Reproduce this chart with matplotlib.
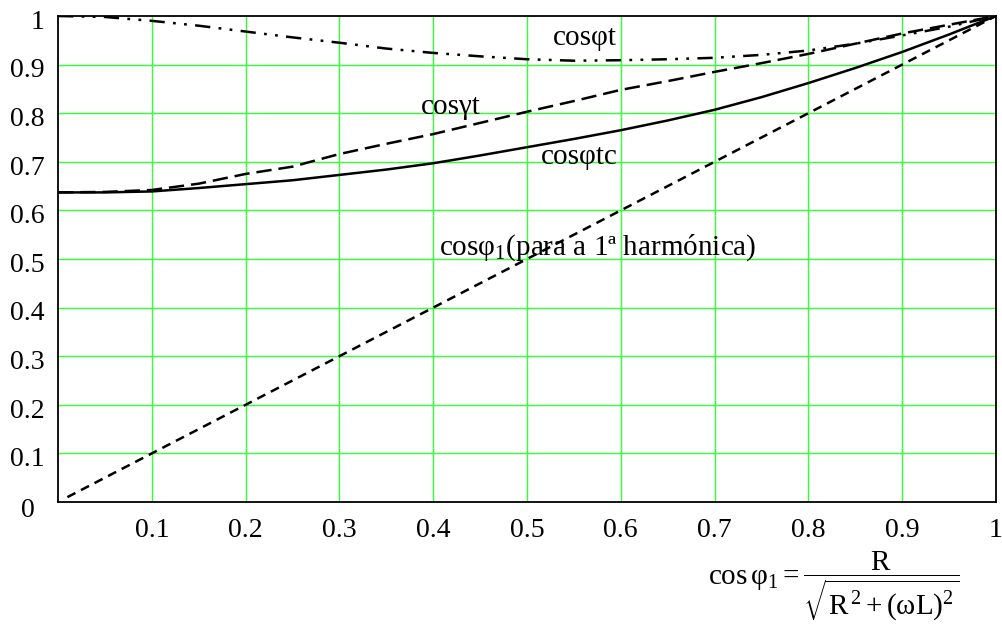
import matplotlib
matplotlib.use("Agg")
import matplotlib.pyplot as plt

plt.rcParams['font.family'] = ['Liberation Serif', 'DejaVu Serif']
plt.rcParams['mathtext.fontset'] = 'custom'
plt.rcParams['mathtext.rm'] = 'Liberation Serif'
plt.rcParams['mathtext.it'] = 'Liberation Serif:italic'
plt.rcParams['lines.scale_dashes'] = False

# cos(phi1) axis values
x = [0.0, 0.05, 0.1, 0.15, 0.2, 0.25, 0.3, 0.35, 0.4, 0.45, 0.5,
     0.55, 0.6, 0.65, 0.7, 0.75, 0.8, 0.85, 0.9, 0.95, 1.0]

cos_phi_t = [1.0, 0.998, 0.99, 0.98, 0.968, 0.956, 0.945, 0.933, 0.924, 0.917, 0.911,
             0.908, 0.909, 0.911, 0.914, 0.92, 0.929, 0.943, 0.96, 0.978, 1.0]
cos_gamma_t = [0.637, 0.638, 0.642, 0.655, 0.675, 0.69, 0.716, 0.737, 0.757, 0.78, 0.803,
               0.825, 0.848, 0.866, 0.885, 0.903, 0.922, 0.943, 0.964, 0.982, 1.0]
cos_phi_tc = [0.637, 0.637, 0.639, 0.646, 0.654, 0.662, 0.673, 0.684, 0.697, 0.713, 0.73,
              0.747, 0.765, 0.785, 0.807, 0.833, 0.862, 0.893, 0.926, 0.962, 1.0]
x1 = [0.01, 0.1, 0.2, 0.3, 0.4, 0.5, 0.6, 0.7, 0.8, 0.9, 1.0]
cos_phi1 = [0.01, 0.1, 0.2, 0.3, 0.4, 0.5, 0.6, 0.7, 0.8, 0.9, 1.0]

ticks = [0.1, 0.2, 0.3, 0.4, 0.5, 0.6, 0.7, 0.8, 0.9, 1.0]
tick_labels = ['0.1', '0.2', '0.3', '0.4', '0.5', '0.6', '0.7', '0.8', '0.9', '1']

fig = plt.figure(figsize=(10.02, 6.32), dpi=100)
ax = fig.add_axes([0.0579, 0.2057, 0.9361, 0.769])

ax.plot(x, cos_phi_t, color='black', lw=1.8, dashes=[11, 6, 2, 6, 2, 6])
ax.plot(x, cos_gamma_t, color='black', lw=1.8, dashes=[11, 5])
ax.plot(x, cos_phi_tc, color='black', lw=1.8)
ax.plot(x1, cos_phi1, color='black', lw=1.8, dashes=[6.5, 4.5])

ax.set_xlim(0, 1)
ax.set_ylim(0, 1)
ax.set_xticks(ticks[:-1])
ax.set_yticks(ticks[:-1])
ax.grid(True, color='#33ff33', lw=1.0)
ax.tick_params(length=0, labelbottom=False, labelleft=False)
for s in ax.spines.values():
    s.set_linewidth(1.3)
    s.set_color('black')

# tick labels
for t, lab in zip(ticks, tick_labels):
    ax.text(t, -0.058, lab, ha='center', va='center', fontsize=20, clip_on=False)
    ax.text(-0.014, t - 0.013, lab, ha='right', va='center', fontsize=20, clip_on=False)
ax.text(-0.032, -0.018, '0', ha='center', va='center', fontsize=20, clip_on=False)

ax.text(0.528, 0.955, 'cosφt', fontsize=21, ha='left', va='center')
ax.text(0.387, 0.813, 'cosγt', fontsize=21, ha='left', va='center')
ax.text(0.515, 0.71, 'cosφtc', fontsize=21, ha='left', va='center')
ax.text(0.406, 0.523, 'cosφ$_1$(para a 1ª harmónica)', fontsize=21, ha='left', va='center')

fig.text(0.832, 0.073, r'$\mathrm{cos\,\varphi_1 = \dfrac{R}{\sqrt{R^{\,2}+(\omega L)^{2}}}}$',
         fontsize=21, ha='center', va='center')

fig.savefig('out.png', dpi=100)
